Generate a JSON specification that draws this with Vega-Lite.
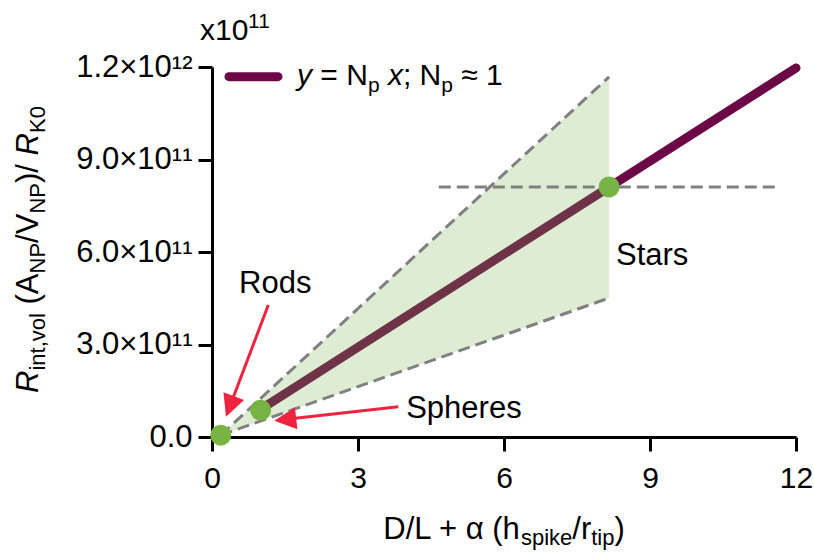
{
  "$schema": "https://vega.github.io/schema/vega-lite/v6.json",
  "width": 584,
  "height": 370,
  "autosize": {"type": "none"},
  "padding": {"left": 212, "top": 67, "right": 18, "bottom": 115},
  "config": {"view": {"stroke": null}, "font": "Liberation Sans", "axis": {"grid": false}},
  "encoding": {
    "x": {"field": "x", "type": "quantitative", "scale": {"domain": [0, 12], "nice": false, "zero": false},
      "axis": {"values": [0, 3, 6, 9, 12], "title": null, "format": "d", "domainColor": "#000", "domainWidth": 3, "tickColor": "#000", "tickWidth": 3, "tickSize": 14, "labelFontSize": 30, "labelColor": "#000", "labelPadding": 12, "labelFont": "Liberation Sans", "labelFlush": false, "labelOverlap": false, "labelBound": false}},
    "y": {"field": "y", "type": "quantitative", "scale": {"domain": [0, 1200000000000], "nice": false, "zero": false},
      "axis": {"values": [0, 300000000000, 600000000000, 900000000000, 1200000000000], "title": null,
        "labelExpr": "datum.value == 0 ? '0.0' : (datum.value >= 1e12 ? format(datum.value/1e12, '.1f') + '×10¹²' : format(datum.value/1e11, '.1f') + '×10¹¹')",
        "domainColor": "#000", "domainWidth": 3, "tickColor": "#000", "tickWidth": 3, "tickSize": 14, "labelFontSize": 31, "labelColor": "#000", "labelPadding": 6, "labelFont": "Liberation Sans", "labelFlush": false, "labelOverlap": false, "labelBound": false}}
  },
  "layer": [
    {
      "data": {"values": [{"x": 1.0, "y": 90000000000}, {"x": 12.0, "y": 1197000000000}]},
      "mark": {"type": "line", "color": "#6d0846", "strokeWidth": 9, "strokeCap": "round"},
      "encoding": {}
    },
    {
      "data": {"values": [{"x": 0.18, "y": 6000000000, "y2": 6000000000}, {"x": 8.16, "y": 1168000000000, "y2": 451000000000}]},
      "mark": {"type": "area", "color": "#78b450", "opacity": 0.25},
      "encoding": {"y2": {"field": "y2"}}
    },
    {
      "data": {"values": [
        {"x": 0.18, "y": 6000000000, "x2": 8.16, "y2": 1168000000000},
        {"x": 0.18, "y": 6000000000, "x2": 8.16, "y2": 451000000000},
        {"x": 4.66, "y": 811000000000, "x2": 11.63, "y2": 811000000000}
      ]},
      "mark": {"type": "rule", "color": "#808080", "strokeWidth": 3, "strokeDash": [12, 6]},
      "encoding": {"x2": {"field": "x2"}, "y2": {"field": "y2"}}
    },
    {
      "data": {"values": [
        {"x": 1.157, "y": 428100000000, "x2": 0.36, "y2": 96300000000},
        {"x": 3.828, "y": 98300000000, "x2": 1.484, "y2": 56400000000}
      ]},
      "mark": {"type": "rule", "color": "#ee2340", "strokeWidth": 3},
      "encoding": {"x2": {"field": "x2"}, "y2": {"field": "y2"}}
    },
    {
      "data": {"values": [{"x": 0.288, "y": 65800000000}]},
      "mark": {"type": "point", "shape": "M0,0L-0.5,1L0.5,1Z", "filled": true, "size": 1936, "angle": 200.6, "color": "#ee2340", "opacity": 1},
      "encoding": {}
    },
    {
      "data": {"values": [{"x": 1.28, "y": 52900000000}]},
      "mark": {"type": "point", "shape": "M0,0L-0.5,1L0.5,1Z", "filled": true, "size": 1936, "angle": 263.6, "color": "#ee2340", "opacity": 1},
      "encoding": {}
    },
    {
      "data": {"values": [{"x": 0.18, "y": 6000000000}, {"x": 1.0, "y": 87000000000}, {"x": 8.16, "y": 811000000000}]},
      "mark": {"type": "circle", "color": "#78b443", "opacity": 1, "size": 440},
      "encoding": {}
    },
    {
      "data": {"values": [{"x": 0.349, "y": 1168600000000, "x2": 1.356, "y2": 1168600000000}]},
      "mark": {"type": "rule", "color": "#6d0846", "strokeWidth": 9, "strokeCap": "round"},
      "encoding": {"x2": {"field": "x2"}, "y2": {"field": "y2"}}
    },
    {
      "data": {"values": [
        {"x": 0.556, "y": 468000000000, "t": "Rods"},
        {"x": 3.99, "y": 61600000000, "t": "Spheres"},
        {"x": 8.301, "y": 557800000000, "t": "Stars"}
      ]},
      "mark": {"type": "text", "align": "left", "baseline": "alphabetic", "fontSize": 31, "color": "#000"},
      "encoding": {"text": {"field": "t"}}
    },
    {
      "data": {"values": [
        {"x": 2.226, "y": 1141600000000, "t": "= N"},
        {"x": 3.923, "y": 1141600000000, "t": "; N"},
        {"x": 5.121, "y": 1141600000000, "t": "≈ 1"}
      ]},
      "mark": {"type": "text", "align": "left", "baseline": "alphabetic", "fontSize": 30, "color": "#000"},
      "encoding": {"text": {"field": "t"}}
    },
    {
      "data": {"values": [
        {"x": 1.747, "y": 1141600000000, "t": "y"},
        {"x": 3.614, "y": 1141600000000, "t": "x"}
      ]},
      "mark": {"type": "text", "align": "left", "baseline": "alphabetic", "fontSize": 30, "fontStyle": "italic", "color": "#000"},
      "encoding": {"text": {"field": "t"}}
    },
    {
      "data": {"values": [
        {"x": 3.203, "y": 1141600000000, "t": "p"},
        {"x": 4.71, "y": 1141600000000, "t": "p"}
      ]},
      "mark": {"type": "text", "align": "left", "baseline": "alphabetic", "fontSize": 21, "dy": 7, "color": "#000"},
      "encoding": {"text": {"field": "t"}}
    },
    {
      "data": {"values": [{"x": -0.247, "y": 1287600000000, "t": "x10"}]},
      "mark": {"type": "text", "align": "left", "baseline": "alphabetic", "fontSize": 30, "color": "#000"},
      "encoding": {"text": {"field": "t"}}
    },
    {
      "data": {"values": [{"x": 0.74, "y": 1287600000000, "t": "11"}]},
      "mark": {"type": "text", "align": "left", "baseline": "alphabetic", "fontSize": 21, "dy": -12, "color": "#000"},
      "encoding": {"text": {"field": "t"}}
    },
    {
      "data": {"values": [
        {"x": 3.52, "y": -331000000000, "t": "D/L + α (h"},
        {"x": 7.403, "y": -331000000000, "t": "/r"},
        {"x": 8.268, "y": -331000000000, "t": ")"}
      ]},
      "mark": {"type": "text", "align": "left", "baseline": "alphabetic", "fontSize": 31, "color": "#000"},
      "encoding": {"text": {"field": "t"}}
    },
    {
      "data": {"values": [
        {"x": 6.349, "y": -331000000000, "t": "spike"},
        {"x": 7.792, "y": -331000000000, "t": "tip"}
      ]},
      "mark": {"type": "text", "align": "left", "baseline": "alphabetic", "fontSize": 22, "dy": 6, "color": "#000"},
      "encoding": {"text": {"field": "t"}}
    },
    {
      "data": {"values": [
        {"x": -3.575, "y": 142700000000, "t": "R"},
        {"x": -3.575, "y": 913300000000, "t": "R"}
      ]},
      "mark": {"type": "text", "align": "left", "baseline": "alphabetic", "angle": -90, "fontSize": 31, "fontStyle": "italic", "color": "#000"},
      "encoding": {"text": {"field": "t"}}
    },
    {
      "data": {"values": [
        {"x": -3.575, "y": 429700000000, "t": "(A"},
        {"x": -3.575, "y": 629500000000, "t": "/V"},
        {"x": -3.575, "y": 823800000000, "t": ")/"}
      ]},
      "mark": {"type": "text", "align": "left", "baseline": "alphabetic", "angle": -90, "fontSize": 31, "color": "#000"},
      "encoding": {"text": {"field": "t"}}
    },
    {
      "data": {"values": [
        {"x": -3.575, "y": 215400000000, "t": "int,vol"},
        {"x": -3.575, "y": 530300000000, "t": "NP"},
        {"x": -3.575, "y": 724500000000, "t": "NP"},
        {"x": -3.575, "y": 986000000000, "t": "K0"}
      ]},
      "mark": {"type": "text", "align": "left", "baseline": "alphabetic", "angle": -90, "fontSize": 22, "dy": 7, "color": "#000"},
      "encoding": {"text": {"field": "t"}}
    }
  ]
}
